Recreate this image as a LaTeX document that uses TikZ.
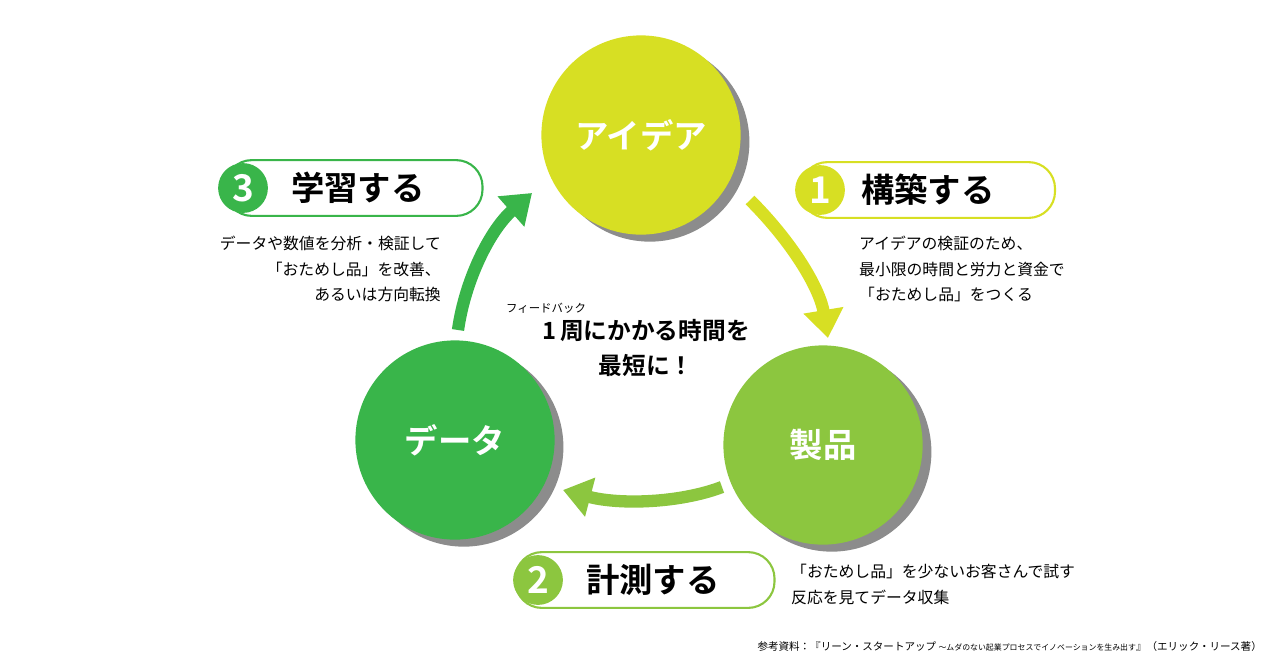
\documentclass[tikz,border=0pt]{standalone}
\usepackage{fontspec}
\setmainfont{Noto Sans CJK JP}
\newfontfamily\bjp{Noto Sans CJK JP Bold}
\usetikzlibrary{arrows.meta,shadows}
\definecolor{cy}{HTML}{D7DF23}
\definecolor{cl}{HTML}{8CC63F}
\definecolor{cg}{HTML}{39B54A}
\tikzset{
  big/.style={circle,minimum size=200*0.567pt,inner sep=0,text=white,font=\bjp\fontsize{19}{21}\selectfont,
    drop shadow={shadow xshift=5pt,shadow yshift=-4pt,opacity=0.45,fill=black}},
  arr/.style={line width=7pt,-{Triangle[length=16pt,width=22pt]}},
  pill/.style={draw,line width=1.2pt,rounded corners=15pt,minimum height=56*0.567pt,inner sep=0},
  num/.style={circle,minimum size=50*0.567pt,inner sep=0,text=white,font=\bjp\fontsize{21}{22}\selectfont},
  ttl/.style={font=\bjp\fontsize{19}{21}\selectfont,anchor=west},
  body/.style={font=\fontsize{9}{14.5}\selectfont,align=left},
}
\begin{document}
\begin{tikzpicture}[x=0.02cm,y=-0.02cm]
\useasboundingbox (0,0) rectangle (1280,670);
\node[big,fill=cy] (idea) at (641,135) {アイデア};
\node[big,fill=cl] (prod) at (823,445) {製品};
\node[big,fill=cg] (data) at (455,440) {データ};
\coordinate (a1s) at (750,200); \coordinate (a1e) at (828,338);
\draw[arr,cy] (a1s) .. controls (795,245) and (820,290) .. (a1e);
\coordinate (a2s) at (722,487); \coordinate (a2e) at (563,490);
\draw[arr,cl] (a2s) .. controls (680,503) and (620,505) .. (a2e);
\coordinate (a3s) at (458,330); \coordinate (a3e) at (532,193);
\draw[arr,cg] (a3s) .. controls (465,280) and (490,230) .. (a3e);
% labels
\node[pill,cy,minimum width=255*0.567pt] (p1) at (928,190) {};
\node[num,fill=cy] (n1) at (820,190) {1};
\node[ttl] (t1) at (855,190) {構築する};
\node[pill,cg,minimum width=258*0.567pt] (p3) at (354,188) {};
\node[num,fill=cg] (n3) at (243,188) {3};
\node[ttl] (t3) at (285,188) {学習する};
\node[pill,cl,minimum width=260*0.567pt] (p2) at (645,580) {};
\node[num,fill=cl] (n2) at (538,580) {2};
\node[ttl] (t2) at (580,580) {計測する};
\node[body,anchor=north west] (b1) at (853,230) {アイデアの検証のため、\\最小限の時間と労力と資金で\\「おためし品」をつくる};
\node[body,align=right,anchor=north east] (b3) at (447,230) {データや数値を分析・検証して\\「おためし品」を改善、\\あるいは方向転換};
\node[body,anchor=north west] (b2) at (785,558) {「おためし品」を少ないお客さんで試す\\反応を見てデータ収集};
\node[font=\fontsize{6.5}{7}\selectfont,anchor=west] (ruby) at (500,308) {フィードバック};
\node[font=\bjp\fontsize{13.5}{20}\selectfont,align=center] (ctr) at (646,348) {1\,周にかかる時間を\\最短に！};
\node[font=\fontsize{6}{7}\selectfont,anchor=east] (ref) at (1268,646) {参考資料：『リーン・スタートアップ {\fontsize{4.5}{5}\selectfont～ムダのない起業プロセスでイノベーションを生み出す}』（エリック・リース著）};
\end{tikzpicture}
\end{document}
